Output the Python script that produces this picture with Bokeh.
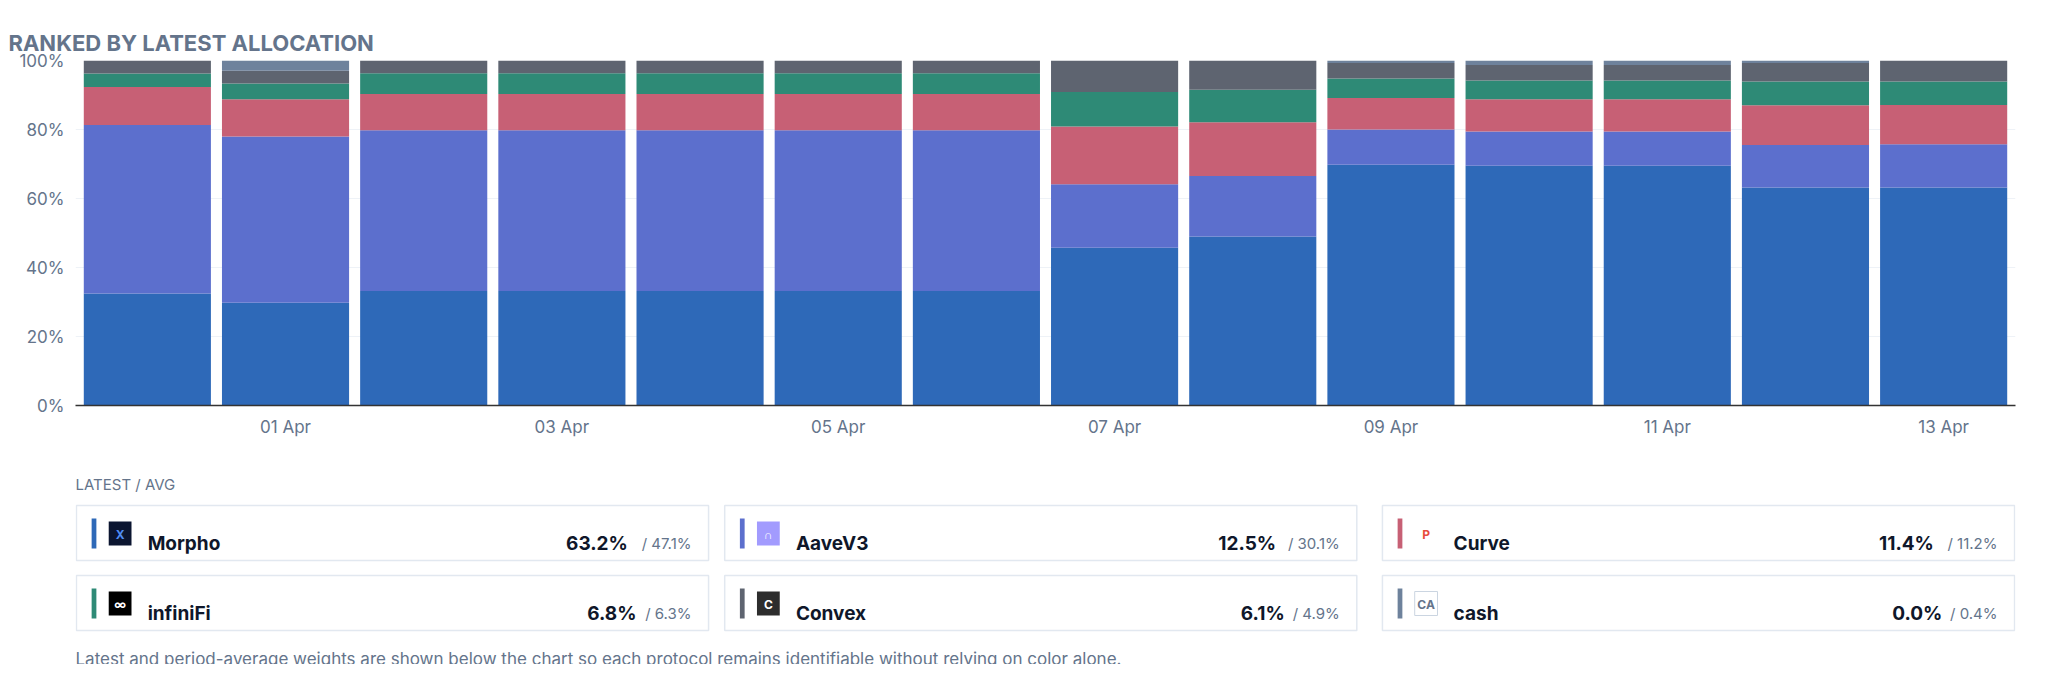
from bokeh.plotting import figure
from bokeh.models import ColumnDataSource, FixedTicker, Range1d
from bokeh.layouts import column
from bokeh.embed import file_html
from bokeh.resources import INLINE
from bokeh.core.properties import value

dates = ["31 Mar", "01 Apr", "02 Apr", "03 Apr", "04 Apr", "05 Apr", "06 Apr",
         "07 Apr", "08 Apr", "09 Apr", "10 Apr", "11 Apr", "12 Apr", "13 Apr"]
protocols = ["Morpho", "AaveV3", "Curve", "infiniFi", "Convex", "cash"]
colors = ["#2e69b8", "#5c6fcd", "#c76075", "#2e8a76", "#5e6470", "#6e829c"]
morpho   = [32.5, 29.8, 33.2, 33.2, 33.2, 33.2, 33.2, 45.7, 49.0, 69.8, 69.5, 69.5, 63.2, 63.2]
aavev3   = [48.8, 48.2, 46.6, 46.6, 46.6, 46.6, 46.6, 18.4, 17.5, 10.2,  9.9,  9.9, 12.3, 12.5]
curve    = [11.0, 10.8, 10.5, 10.5, 10.5, 10.5, 10.5, 16.8, 15.6,  9.1,  9.4,  9.4, 11.5, 11.4]
infinifi = [ 3.9,  4.5,  6.0,  6.0,  6.0,  6.0,  6.0, 10.0,  9.4,  5.7,  5.4,  5.4,  6.9,  6.8]
convex   = [ 3.8,  3.7,  3.7,  3.7,  3.7,  3.7,  3.7,  9.1,  8.5,  4.5,  4.5,  4.5,  5.4,  6.1]
cash     = [ 0.0,  3.0,  0.0,  0.0,  0.0,  0.0,  0.0,  0.0,  0.0,  0.7,  1.3,  1.3,  0.7,  0.0]
latest = ["63.2%", "12.5%", "11.4%", "6.8%", "6.1%", "0.0%"]
average = ["47.1%", "30.1%", "11.2%", "6.3%", "4.9%", "0.4%"]

FONT = "Inter"
GRAY = "#64748b"
W = 2044

src = ColumnDataSource(dict(x=list(range(len(dates))), Morpho=morpho, AaveV3=aavev3,
                            Curve=curve, infiniFi=infinifi, Convex=convex, cash=cash))
p = figure(width=W, height=445, output_backend="svg", toolbar_location=None,
           x_range=Range1d(-0.52, len(dates) - 0.48), y_range=Range1d(0, 100),
           min_border_left=75, min_border_right=29, min_border_top=60, min_border_bottom=40,
           title="RANKED BY LATEST ALLOCATION")
p.title.text_font = FONT
p.title.text_font_size = "22px"
p.title.text_font_style = "bold"
p.title.text_color = GRAY
p.title.offset = -67
p.vbar_stack(protocols, x="x", width=0.92, color=colors, line_color=None, source=src)
p.outline_line_color = None
p.xgrid.grid_line_color = None
p.ygrid.grid_line_color = "#eef2f7"
p.yaxis.ticker = FixedTicker(ticks=[0, 20, 40, 60, 80, 100])
p.yaxis.major_label_overrides = {t: f"{t}%" for t in [0, 20, 40, 60, 80, 100]}
p.yaxis.axis_line_color = None
p.yaxis.major_tick_line_color = None
p.xaxis.ticker = FixedTicker(ticks=list(range(1, len(dates), 2)))
p.xaxis.major_label_overrides = {i: dates[i] for i in range(1, len(dates), 2)}
p.xaxis.axis_line_color = "#333333"
p.xaxis.axis_line_width = 1.5
p.xaxis.major_tick_line_color = None
for ax in (p.xaxis, p.yaxis):
    ax.minor_tick_line_color = None
    ax.major_label_text_font = FONT
    ax.major_label_text_font_size = "17px"
    ax.major_label_text_color = GRAY

# cards
H2 = 219
q = figure(width=W, height=H2, output_backend="svg", toolbar_location=None,
           x_range=Range1d(0, W), y_range=Range1d(H2, 0), min_border=0,
           x_axis_location=None, y_axis_location=None)
q.grid.visible = False
q.outline_line_color = None
q.text(x=[0], y=[39], text=["LATEST / AVG"], text_font=value(FONT), text_font_size="15px",
       text_color=GRAY, text_baseline="middle")
col_x = [1, 684, 1377]
row_y = [60, 130]
cx, cy = [], []
for i in range(len(protocols)):
    cx.append(col_x[i % 3]); cy.append(row_y[i // 3])
cw = 666
q.quad(left=cx, right=[x + cw for x in cx], top=cy, bottom=[y + 55 for y in cy],
       fill_color="white", line_color="#e2e8f0", line_width=1.5)
q.quad(left=[x + 16 for x in cx], right=[x + 21 for x in cx], top=[y + 13 for y in cy],
       bottom=[y + 43 for y in cy], fill_color=colors, line_color=None)
icon_bg = ["#0b1530", "#a29bfe", "#ffffff", "#000000", "#2d2d2d", "#ffffff"]
icon_txt = ["X", "\u2229", "P", "\u221e", "C", "CA"]
icon_col = ["#4f8df5", "#ffffff", "#e74c3c", "#ffffff", "#ffffff", GRAY]
q.quad(left=[x + 34 for x in cx], right=[x + 58 for x in cx], top=[y + 16 for y in cy],
       bottom=[y + 40 for y in cy], fill_color=icon_bg, line_color="#cbd5e1",
       line_alpha=[0, 0, 0, 0, 0, 1])
q.text(x=[x + 46 for x in cx], y=[y + 29 for y in cy], text=icon_txt, text_font=value(FONT),
       text_font_size="12px", text_font_style="bold", text_color=icon_col,
       text_align="center", text_baseline="middle")
q.text(x=[x + 75 for x in cx], y=[y + 38 for y in cy], text=protocols, text_font=value(FONT),
       text_font_size="19px", text_font_style="bold", text_color="#0f172a",
       text_baseline="middle")
q.text(x=[x + cw - 18 for x in cx], y=[y + 38 for y in cy], text=["/ " + a for a in average],
       text_font=value(FONT), text_font_size="15px", text_color=GRAY,
       text_align="right", text_baseline="middle")
q.text(x=[x + cw - 22 - 9 * (len(a) + 2) for x, a in zip(cx, average)], y=[y + 38 for y in cy],
       text=latest, text_font=value(FONT), text_font_size="19px", text_font_style="bold",
       text_color="#0f172a", text_align="right", text_baseline="middle")
q.text(x=[0], y=[203], text=["Latest and period-average weights are shown below the chart so each protocol remains identifiable without relying on color alone."],
       text_font=value(FONT), text_font_size="17px", text_color=GRAY, text_baseline="top")

open("out.html", "w").write(file_html(column(p, q, spacing=0), INLINE))
